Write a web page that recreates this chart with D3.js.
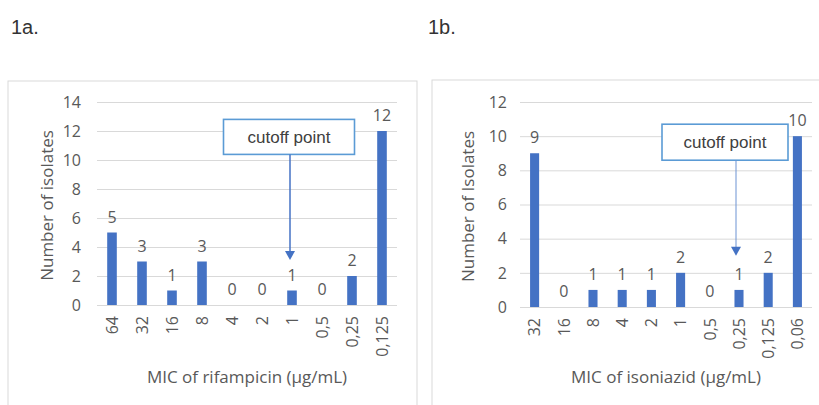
<!DOCTYPE html>
<html>
<head>
<meta charset="utf-8">
<script src="https://cdn.jsdelivr.net/npm/d3@7"></script>
<style>
  body { margin: 0; background: #fff; }
  .grid line { stroke: #d9d9d9; }
  .grid .domain { display: none; }
  .tick-label, .value-label { fill: #595959; font-family: "Open Sans", sans-serif; font-size: 16px; }
  .axis-title { fill: #595959; font-family: "Open Sans", sans-serif; font-size: 17px; }
  .panel-title { fill: #333; font-family: "Liberation Sans", Arial, sans-serif; font-size: 20px; }
  .note-text { fill: #404040; font-family: "Liberation Sans", Arial, sans-serif; font-size: 17px; }
</style>
</head>
<body>
<div id="chart"></div>
<script>
// Data
const micRifampicin = ['64', '32', '16', '8', '4', '2', '1', '0,5', '0,25', '0,125']
const isolatesRifampicin = [5, 3, 1, 3, 0, 0, 1, 0, 2, 12]
const ticksRifampicin = [0, 2, 4, 6, 8, 10, 12, 14]

const micIsoniazid = ['32', '16', '8', '4', '2', '1', '0,5', '0,25', '0,125', '0,06']
const isolatesIsoniazid = [9, 0, 1, 1, 1, 2, 0, 1, 2, 10]
const ticksIsoniazid = [0, 2, 4, 6, 8, 10, 12]

const width = 819
const height = 405
const barColor = '#4472c4'

const svg = d3.select('#chart')
  .append('svg')
  .attr('width', width)
  .attr('height', height)

const drawPanel = (p) => {
  // Panel frame
  svg.append('rect')
    .attr('x', p.frame[0]).attr('y', p.frame[1])
    .attr('width', p.frame[2]).attr('height', p.frame[3])
    .attr('fill', '#fff')
    .attr('stroke', '#d9d9d9')

  svg.append('text')
    .attr('class', 'panel-title')
    .attr('x', p.titleX).attr('y', 34)
    .text(p.title)

  const x = d3.scaleBand()
    .domain(p.categories)
    .range([p.left, p.right])
    .paddingInner(p.pad)
    .paddingOuter(p.pad / 2)

  const y = d3.scaleLinear()
    .domain([0, d3.max(p.ticks)])
    .range([p.bottom, p.top])

  // Y gridlines
  svg.append('g')
    .attr('class', 'grid')
    .attr('transform', `translate(${p.left}, 0)`)
    .call(d3.axisLeft(y).tickValues(p.ticks).tickSize(-(p.right - p.left)).tickFormat(''))

  // Y tick labels
  svg.append('g')
    .selectAll('text')
    .data(p.ticks)
    .join('text')
    .attr('class', 'tick-label')
    .attr('x', p.left - p.tickGap)
    .attr('y', d => y(d))
    .attr('dy', '0.36em')
    .attr('text-anchor', 'end')
    .text(d => d)

  // Bars
  svg.append('g')
    .selectAll('rect')
    .data(p.values)
    .join('rect')
    .attr('x', (d, i) => x(p.categories[i]))
    .attr('y', d => y(d))
    .attr('width', x.bandwidth())
    .attr('height', d => y(0) - y(d))
    .attr('fill', barColor)

  // Value labels
  svg.append('g')
    .selectAll('text')
    .data(p.values)
    .join('text')
    .attr('class', 'value-label')
    .attr('x', (d, i) => x(p.categories[i]) + x.bandwidth() / 2)
    .attr('y', d => y(d) - 10)
    .attr('text-anchor', 'middle')
    .text(d => d)

  // Rotated category labels
  svg.append('g')
    .selectAll('text')
    .data(p.categories)
    .join('text')
    .attr('class', 'tick-label')
    .attr('transform', d => `translate(${x(d) + x.bandwidth() / 2}, ${p.bottom + 11}) rotate(-90)`)
    .attr('dy', '0.36em')
    .attr('text-anchor', 'end')
    .text(d => d)

  // Axis titles
  svg.append('text')
    .attr('class', 'axis-title')
    .attr('x', (p.left + p.right) / 2)
    .attr('y', 383)
    .attr('text-anchor', 'middle')
    .text(p.xTitle)

  svg.append('text')
    .attr('class', 'axis-title')
    .attr('transform', `translate(${p.yTitleX}, ${(p.top + p.bottom) / 2 + 2}) rotate(-90)`)
    .attr('text-anchor', 'middle')
    .text(p.yTitle)

  // Cutoff annotation
  const n = p.note
  const ax = x(n.category) + x.bandwidth() / 2 + n.arrowShift
  svg.append('rect')
    .attr('x', ax + n.boxShift - n.boxW / 2)
    .attr('y', y(n.boxTop))
    .attr('width', n.boxW)
    .attr('height', n.boxH)
    .attr('fill', '#fff')
    .attr('stroke', '#5b9bd5')
    .attr('stroke-width', 1.6)

  svg.append('text')
    .attr('class', 'note-text')
    .attr('x', ax + n.boxShift)
    .attr('y', y(n.boxTop) + n.boxH / 2)
    .attr('dy', '0.35em')
    .attr('text-anchor', 'middle')
    .text('cutoff point')

  svg.append('line')
    .attr('x1', ax).attr('x2', ax)
    .attr('y1', y(n.boxTop) + n.boxH)
    .attr('y2', y(n.tip) - 7)
    .attr('stroke', n.lineColor)
    .attr('stroke-width', n.lineW)

  svg.append('path')
    .attr('d', `M${ax - 5},${y(n.tip) - 9}L${ax + 5},${y(n.tip) - 9}L${ax},${y(n.tip)}Z`)
    .attr('fill', barColor)
}

drawPanel({
  frame: [8, 81, 409, 340],
  title: '1a.',
  titleX: 11,
  categories: micRifampicin,
  values: isolatesRifampicin,
  ticks: ticksRifampicin,
  left: 97, right: 397, top: 102, bottom: 305,
  pad: 0.68,
  tickGap: 16,
  xTitle: 'MIC of rifampicin (µg/mL)',
  yTitle: 'Number of isolates',
  yTitleX: 53,
  note: { category: '1', arrowShift: -2, boxShift: -1, boxW: 131, boxH: 35, boxTop: 12.8, tip: 3.1, lineColor: '#4472c4', lineW: 1.5 }
})

drawPanel({
  frame: [432, 80, 400, 340],
  title: '1b.',
  titleX: 428,
  categories: micIsoniazid,
  values: isolatesIsoniazid,
  ticks: ticksIsoniazid,
  left: 520, right: 812, top: 102, bottom: 307,
  pad: 0.69,
  tickGap: 13,
  xTitle: 'MIC of isoniazid (µg/mL)',
  yTitle: 'Number of Isolates',
  yTitleX: 474,
  note: { category: '0,25', arrowShift: -3, boxShift: -11, boxW: 126, boxH: 36, boxTop: 10.7, tip: 3.0, lineColor: '#6d93d3', lineW: 1 }
})
</script>
</body>
</html>
